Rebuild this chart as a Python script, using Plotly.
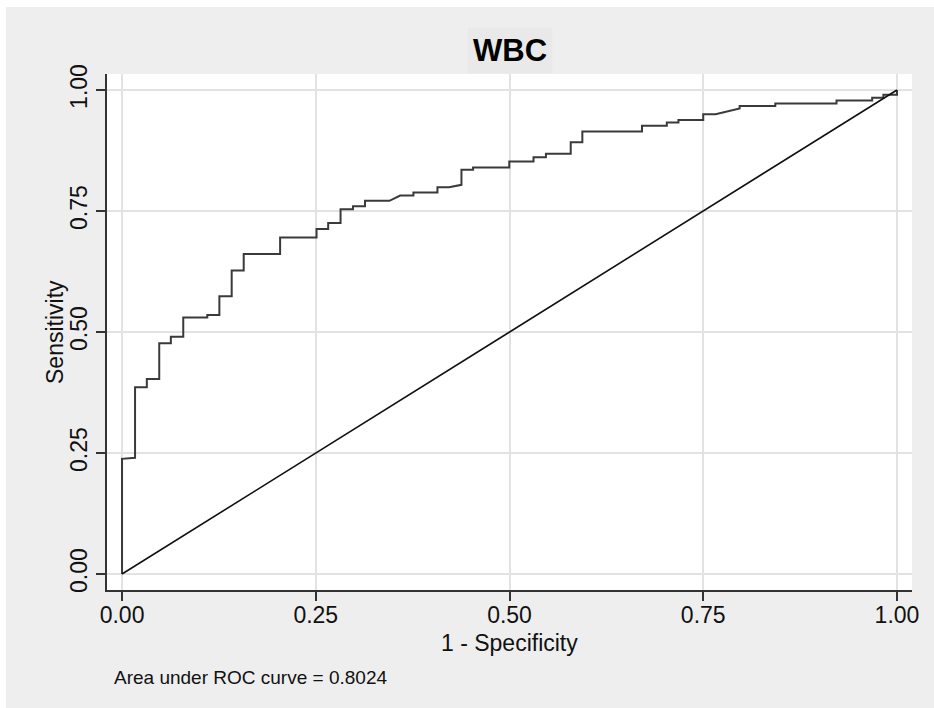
import plotly.graph_objects as go

# ROC curve vertices (1 - specificity, sensitivity)
fpr = [0.0, 0.0, 0.0168, 0.0168, 0.032, 0.032, 0.048, 0.048, 0.063, 0.063,
       0.079, 0.079, 0.110, 0.110, 0.1256, 0.1256, 0.1415, 0.1415, 0.157, 0.157,
       0.204, 0.204, 0.251, 0.251, 0.266, 0.266, 0.282, 0.282, 0.298, 0.298,
       0.3135, 0.3135, 0.345, 0.359, 0.376, 0.376, 0.407, 0.407, 0.422, 0.438,
       0.438, 0.453, 0.453, 0.4997, 0.4997, 0.531, 0.531, 0.547, 0.547, 0.579,
       0.579, 0.594, 0.594, 0.671, 0.671, 0.703, 0.703, 0.718, 0.718, 0.750,
       0.750, 0.766, 0.797, 0.797, 0.843, 0.843, 0.922, 0.922, 0.968, 0.968,
       0.9825, 0.9825, 1.0, 1.0]
tpr = [0.0, 0.238, 0.240, 0.386, 0.386, 0.403, 0.403, 0.477, 0.477, 0.490,
       0.490, 0.530, 0.530, 0.535, 0.535, 0.574, 0.574, 0.627, 0.627, 0.661,
       0.661, 0.695, 0.695, 0.713, 0.713, 0.725, 0.725, 0.7535, 0.7535, 0.760,
       0.760, 0.771, 0.771, 0.782, 0.782, 0.788, 0.788, 0.799, 0.799, 0.804,
       0.835, 0.835, 0.840, 0.840, 0.852, 0.852, 0.861, 0.861, 0.868, 0.868,
       0.892, 0.892, 0.914, 0.914, 0.926, 0.926, 0.933, 0.933, 0.938, 0.938,
       0.950, 0.950, 0.962, 0.967, 0.967, 0.972, 0.972, 0.978, 0.978, 0.984,
       0.984, 0.990, 0.990, 1.0]

ref_x = [0.0, 1.0]
ref_y = [0.0, 1.0]
tick_vals = [0.0, 0.25, 0.5, 0.75, 1.0]
tick_text = ["0.00", "0.25", "0.50", "0.75", "1.00"]
title_text = "WBC"
x_title = "1 - Specificity"
y_title = "Sensitivity"
note_text = "Area under ROC curve = 0.8024"

FONT = "Liberation Sans, Arial, Helvetica, sans-serif"
BG = "#eeeeee"

fig = go.Figure()
fig.add_trace(go.Scatter(x=fpr, y=tpr, mode="lines",
                         line=dict(color="#3a3a3a", width=2), hoverinfo="skip"))
fig.add_trace(go.Scatter(x=ref_x, y=ref_y, mode="lines",
                         line=dict(color="#111111", width=1.6), hoverinfo="skip"))

axis_common = dict(
    tickvals=tick_vals, ticktext=tick_text,
    showgrid=True, gridcolor="#e2e2e2", gridwidth=2,
    zeroline=False, showline=True, linecolor="#333333", linewidth=1.5,
    ticks="outside", ticklen=9, tickwidth=1.5, tickcolor="#333333",
    tickfont=dict(family=FONT, size=23, color="#111111"),
    fixedrange=True,
)

fig.update_layout(
    width=934, height=708,
    margin=dict(l=107, r=22, t=74, b=118),
    paper_bgcolor=BG, plot_bgcolor="white",
    showlegend=False,
    xaxis=dict(range=[-0.0194, 1.0194], ticklabelstandoff=-5, **axis_common),
    yaxis=dict(range=[-0.033, 1.033], tickangle=-90, **axis_common),
    shapes=[
        dict(type="rect", xref="paper", yref="paper", x0=-0.14, x1=1.1,
             y0=1.1298, y1=1.16, fillcolor="white", line=dict(width=0), layer="below"),
        dict(type="rect", xref="paper", yref="paper", x0=-0.14, x1=-0.1255,
             y0=-0.25, y1=1.16, fillcolor="white", line=dict(width=0), layer="below"),
    ],
    annotations=[
        dict(text="<b>" + title_text + "</b>", xref="paper", yref="paper",
             x=0.5, y=1, yanchor="middle", yshift=24,
             showarrow=False, font=dict(family=FONT, size=31, color="black"),
             bgcolor="#e9e9e9", borderpad=5),
        dict(text=x_title, xref="paper", yref="paper", x=0.5, y=0,
             yanchor="middle", yshift=-53, showarrow=False,
             font=dict(family=FONT, size=23, color="#111111")),
        dict(text=y_title, xref="paper", yref="paper", x=0, y=0.5,
             xanchor="center", xshift=-52, textangle=-90, showarrow=False,
             font=dict(family=FONT, size=23, color="#111111")),
        dict(text=note_text, xref="paper", yref="paper", x=0, y=0,
             xanchor="left", xshift=5, yanchor="middle", yshift=-87,
             showarrow=False, font=dict(family=FONT, size=19, color="#111111")),
    ],
)

fig.write_html("out.html", config={"displayModeBar": False},
               post_script="document.body.style.margin='0';document.body.style.padding='0';")
